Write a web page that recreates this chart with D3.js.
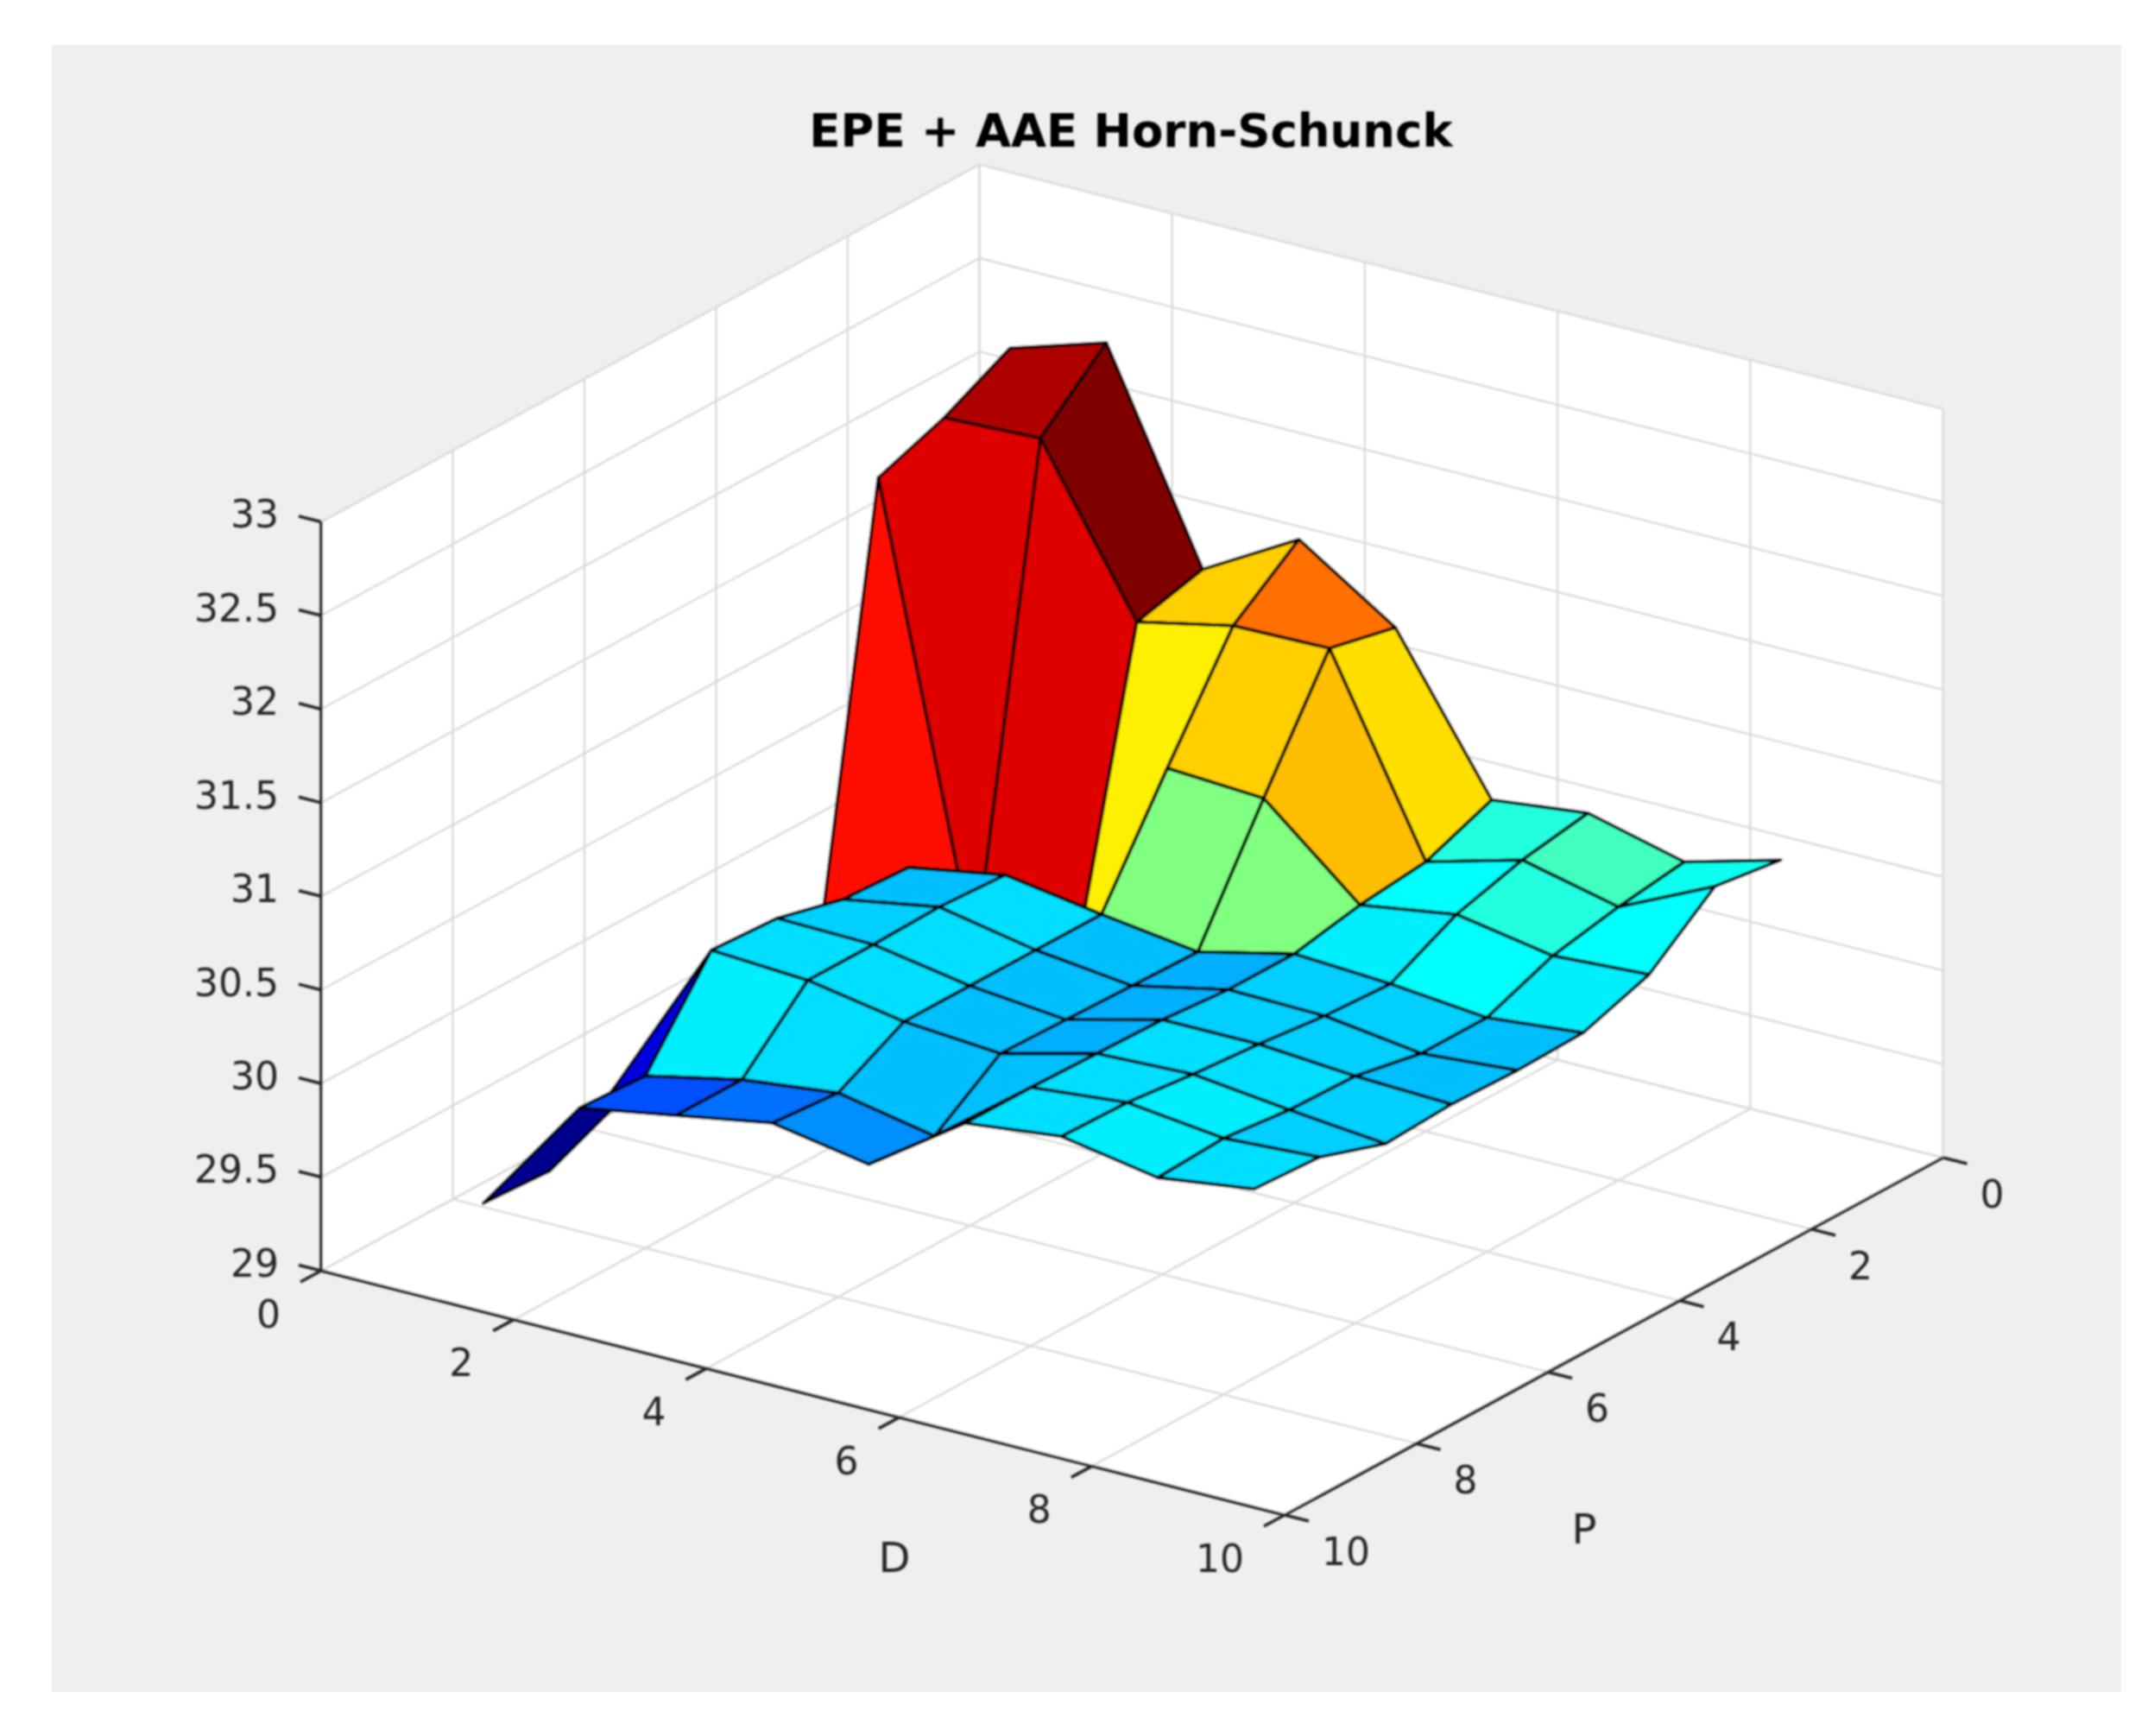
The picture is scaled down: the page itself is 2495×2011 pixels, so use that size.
<!DOCTYPE html>
<html>
<head>
<meta charset="utf-8">
<title>EPE + AAE Horn-Schunck</title>
<script src="https://cdn.jsdelivr.net/npm/d3@7"></script>
<style>
    html, body { margin: 0; padding: 0; background: #ffffff; }
    text { font-family: "DejaVu Sans", sans-serif; fill: #262626; }
</style>
</head>
<body>
<svg id="chart" width="2495" height="2011"></svg>
<script>
const chartTitle = 'EPE + AAE Horn-Schunck';
const dGrid = [1, 2, 3, 4, 5, 6, 7, 8, 9];
const pGrid = [1, 2, 3, 4, 5, 6, 7, 8, 9];
const dTicks = [0, 2, 4, 6, 8, 10];
const pTicks = [0, 2, 4, 6, 8, 10];
const zTicks = [29, 29.5, 30, 30.5, 31, 31.5, 32, 32.5, 33];

// one row per P, one value per D
const zP1 = [32.34, 32.50, 31.42, 31.71, 31.37, 30.58, 30.64, 30.51, 30.65];
const zP2 = [32.16, 32.18, 31.33, 31.44, 31.45, 30.44, 30.58, 30.46, 30.70];
const zP3 = [32.03, 29.61, 29.58, 30.87, 30.84, 30.40, 30.48, 30.39, 30.42];
const zP4 = [29.45, 30.27, 30.36, 30.28, 30.21, 30.33, 30.30, 30.25, 30.30];
const zP5 = [29.50, 30.29, 30.38, 30.28, 30.22, 30.33, 30.32, 30.25, 30.29];
const zP6 = [29.50, 30.38, 30.37, 30.28, 30.23, 30.36, 30.36, 30.32, 30.30];
const zP7 = [29.54, 30.40, 30.37, 30.28, 30.24, 30.37, 30.39, 30.33, 30.28];
const zP8 = [29.28, 29.92, 30.03, 30.09, 29.99, 30.38, 30.43, 30.37, 30.40];
const zP9 = [29.30, 29.94, 30.03, 30.12, 30.03, 30.38, 30.44, 30.35, 30.42];
const zRows = [zP1, zP2, zP3, zP4, zP5, zP6, zP7, zP8, zP9];

const svg = d3.select('#chart');

// the reference is an upscaled screenshot, so everything inside the panel is a bit soft
svg.append('defs')
    .append('filter')
    .attr('id', 'soft')
    .attr('filterUnits', 'userSpaceOnUse')
    .attr('x', 0).attr('y', 0)
    .attr('width', 2495).attr('height', 2011)
    .append('feGaussianBlur')
    .attr('stdDeviation', 0.8);

// the 3D box is a plain oblique projection, one scale per screen contribution
const xFromD = d3.scaleLinear().domain([0, 10]).range([372, 1488]);
const xFromP = d3.scaleLinear().domain([0, 10]).range([762.5, 0]);
const yFromD = d3.scaleLinear().domain([0, 10]).range([0, 283]);
const yFromP = d3.scaleLinear().domain([0, 10]).range([-414, 0]);
const yFromZ = d3.scaleLinear().domain([29, 33]).range([1472, 604.6]);

const project = (d, p, z) => [xFromD(d) + xFromP(p), yFromD(d) + yFromP(p) + yFromZ(z)];

const allZ = zRows.flat();
const colorT = d3.scaleLinear().domain(d3.extent(allZ)).range([0, 1]);
const clamp01 = v => Math.max(0, Math.min(1, v));

// jet(64), same formula as the matlab colormap
function jetColor(z) {
    const level = Math.min(63, Math.floor(colorT(z) * 64));
    const u = (level + 1) / 64;
    const r = clamp01(Math.min(4 * u - 1.5, -4 * u + 4.5));
    const g = clamp01(Math.min(4 * u - 0.5, -4 * u + 3.5));
    const b = clamp01(Math.min(4 * u + 0.5, -4 * u + 2.5));
    return d3.rgb(r * 255, g * 255, b * 255).formatHex();
}

// figure panel
svg.append('rect')
    .attr('x', 60).attr('y', 52)
    .attr('width', 2397).attr('height', 1908)
    .attr('fill', '#efefef');

const plot = svg.append('g').attr('filter', 'url(#soft)');

// white hexagon behind the walls and the floor
const boxOutline = [
    project(0, 10, 29), project(10, 10, 29), project(10, 0, 29),
    project(10, 0, 33), project(0, 0, 33), project(0, 10, 33)
];
plot.append('polygon')
    .attr('points', boxOutline.map(c => c.join(',')).join(' '))
    .attr('fill', '#ffffff');

// grid: both walls and the floor
const gridSegments = [];
zTicks.forEach(z => {
    gridSegments.push([project(0, 10, z), project(0, 0, z)]);
    gridSegments.push([project(0, 0, z), project(10, 0, z)]);
});
dTicks.forEach(d => {
    gridSegments.push([project(d, 0, 29), project(d, 0, 33)]);
    gridSegments.push([project(d, 0, 29), project(d, 10, 29)]);
});
pTicks.forEach(p => {
    gridSegments.push([project(0, p, 29), project(0, p, 33)]);
    gridSegments.push([project(0, p, 29), project(10, p, 29)]);
});

plot.append('g')
    .selectAll('line')
    .data(gridSegments)
    .enter()
    .append('line')
    .attr('x1', s => s[0][0]).attr('y1', s => s[0][1])
    .attr('x2', s => s[1][0]).attr('y2', s => s[1][1])
    .attr('stroke', '#d9d9d9')
    .attr('stroke-width', 2.4);

// faces far to near, so later faces cover earlier ones; flat colour from the first corner
const faces = [];
pGrid.slice(0, -1).forEach((p, i) => {
    dGrid.slice(0, -1).forEach((d, j) => {
        faces.push({
            z: zRows[i][j],
            corners: [
                project(d, p, zRows[i][j]),
                project(dGrid[j + 1], p, zRows[i][j + 1]),
                project(dGrid[j + 1], pGrid[i + 1], zRows[i + 1][j + 1]),
                project(d, pGrid[i + 1], zRows[i + 1][j])
            ]
        });
    });
});

plot.append('g')
    .selectAll('polygon')
    .data(faces)
    .enter()
    .append('polygon')
    .attr('points', f => f.corners.map(c => c.join(',')).join(' '))
    .attr('fill', f => jetColor(f.z))
    .attr('stroke', '#000000')
    .attr('stroke-width', 3.8)
    .attr('stroke-linejoin', 'round');

// axis lines
const axisSegments = [
    [project(0, 10, 29), project(0, 10, 33)],
    [project(0, 10, 29), project(10, 10, 29)],
    [project(10, 10, 29), project(10, 0, 29)]
];
const tickSegments = [
    ...zTicks.map(z => {
        const c = project(0, 10, z);
        return [c, [c[0] - 26, c[1] - 6.6]];
    }),
    ...dTicks.map(d => {
        const c = project(d, 10, 29);
        return [c, [c[0] - 24, c[1] + 13]];
    }),
    ...pTicks.map(p => {
        const c = project(10, p, 29);
        return [c, [c[0] + 28, c[1] + 7.1]];
    })
];

plot.append('g')
    .selectAll('line')
    .data(axisSegments.concat(tickSegments))
    .enter()
    .append('line')
    .attr('x1', s => s[0][0]).attr('y1', s => s[0][1])
    .attr('x2', s => s[1][0]).attr('y2', s => s[1][1])
    .attr('stroke', '#262626')
    .attr('stroke-width', 3.6);

// tick labels
plot.append('g')
    .selectAll('text')
    .data(zTicks)
    .enter()
    .append('text')
    .attr('x', 323)
    .attr('y', z => yFromZ(z) - 9)
    .attr('dy', '0.36em')
    .attr('text-anchor', 'end')
    .attr('font-size', 44)
    .text(z => z);

plot.append('g')
    .selectAll('text')
    .data(dTicks)
    .enter()
    .append('text')
    .attr('x', d => project(d, 10, 29)[0] - 47)
    .attr('y', d => project(d, 10, 29)[1] + 50)
    .attr('dy', '0.36em')
    .attr('text-anchor', 'end')
    .attr('font-size', 44)
    .text(d => d);

plot.append('g')
    .selectAll('text')
    .data(pTicks)
    .enter()
    .append('text')
    .attr('x', p => project(10, p, 29)[0] + 43)
    .attr('y', p => project(10, p, 29)[1] + 42)
    .attr('dy', '0.36em')
    .attr('text-anchor', 'start')
    .attr('font-size', 44)
    .text(p => p);

// axis labels and title
plot.append('text')
    .attr('x', 1036).attr('y', 1804)
    .attr('dy', '0.36em')
    .attr('text-anchor', 'middle')
    .attr('font-size', 48)
    .text('D');

plot.append('text')
    .attr('x', 1835).attr('y', 1771)
    .attr('dy', '0.36em')
    .attr('text-anchor', 'middle')
    .attr('font-size', 48)
    .text('P');

plot.append('text')
    .attr('x', 1310).attr('y', 151)
    .attr('dy', '0.36em')
    .attr('text-anchor', 'middle')
    .attr('font-size', 53)
    .attr('font-weight', 'bold')
    .style('fill', '#000000')
    .text(chartTitle);
</script>
</body>
</html>
